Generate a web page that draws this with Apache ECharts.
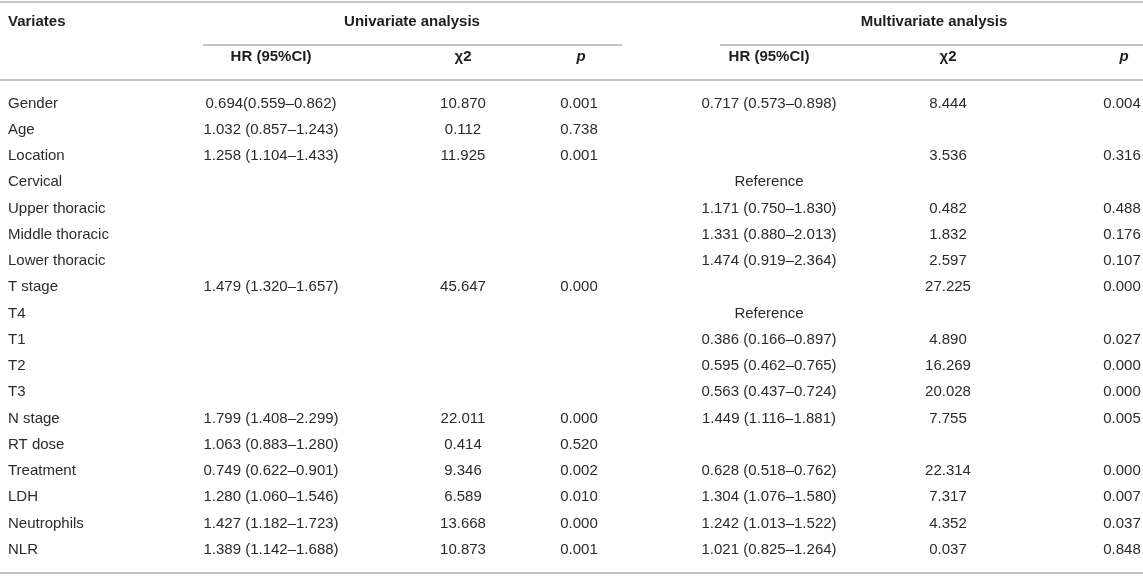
<!DOCTYPE html>
<html lang="en" style="height: 100%">
  <head>
    <meta charset="utf-8">
    <title>Cox regression table</title>
  </head>
  <body style="height: 100%; margin: 0; background: #fff">
    <div id="container" style="width: 1143px; height: 577px;"></div>
    <script type="text/javascript" src="https://cdn.jsdelivr.net/npm/echarts@6/dist/echarts.min.js"></script>
    <script type="text/javascript">
      // table content
      var variates = ['Gender', 'Age', 'Location', 'Cervical', 'Upper thoracic', 'Middle thoracic', 'Lower thoracic',
        'T stage', 'T4', 'T1', 'T2', 'T3', 'N stage', 'RT dose', 'Treatment', 'LDH', 'Neutrophils', 'NLR'];
      var uniHR = ['0.694(0.559–0.862)', '1.032 (0.857–1.243)', '1.258 (1.104–1.433)', '', '', '', '',
        '1.479 (1.320–1.657)', '', '', '', '', '1.799 (1.408–2.299)', '1.063 (0.883–1.280)',
        '0.749 (0.622–0.901)', '1.280 (1.060–1.546)', '1.427 (1.182–1.723)', '1.389 (1.142–1.688)'];
      var uniChi = ['10.870', '0.112', '11.925', '', '', '', '', '45.647', '', '', '', '',
        '22.011', '0.414', '9.346', '6.589', '13.668', '10.873'];
      var uniP = ['0.001', '0.738', '0.001', '', '', '', '', '0.000', '', '', '', '',
        '0.000', '0.520', '0.002', '0.010', '0.000', '0.001'];
      var multiHR = ['0.717 (0.573–0.898)', '', '', 'Reference', '1.171 (0.750–1.830)', '1.331 (0.880–2.013)',
        '1.474 (0.919–2.364)', '', 'Reference', '0.386 (0.166–0.897)', '0.595 (0.462–0.765)',
        '0.563 (0.437–0.724)', '1.449 (1.116–1.881)', '', '0.628 (0.518–0.762)', '1.304 (1.076–1.580)',
        '1.242 (1.013–1.522)', '1.021 (0.825–1.264)'];
      var multiChi = ['8.444', '', '3.536', '', '0.482', '1.832', '2.597', '27.225', '', '4.890', '16.269',
        '20.028', '7.755', '', '22.314', '7.317', '4.352', '0.037'];
      var multiP = ['0.004', '', '0.316', '', '0.488', '0.176', '0.107', '0.000', '', '0.027', '0.000',
        '0.000', '0.005', '', '0.000', '0.007', '0.037', '0.848'];
      var subHeaders = ['HR (95%CI)', 'χ2', 'p'];

      // layout: column anchors (x) and alignment
      var columns = [
        {values: variates, x: 8, align: 'left'},
        {values: uniHR, x: 271, align: 'center'},
        {values: uniChi, x: 463, align: 'center'},
        {values: uniP, x: 579, align: 'center'},
        {values: multiHR, x: 769, align: 'center'},
        {values: multiChi, x: 948, align: 'center'},
        {values: multiP, x: 1122, align: 'center'}
      ];
      var FONT = '"Liberation Sans", Arial, sans-serif';
      var TXT = '#2b2b2b';
      var RULE = '#c4c4c4';

      var cells = [];
      columns.forEach(function (col, c) {
        col.values.forEach(function (v, r) {
          if (v !== '') cells.push({value: [col.x, r], text: v, align: col.align});
        });
      });

      var headerText = function (x, y, text, extra) {
        return {
          type: 'text', x: x, y: y,
          style: Object.assign({
            text: text, fill: '#1e1e1e', font: 'bold 15px ' + FONT,
            align: 'center', verticalAlign: 'middle'
          }, extra || {})
        };
      };
      var rule = function (x1, x2, y) {
        return {type: 'line', shape: {x1: x1, y1: y, x2: x2, y2: y}, style: {stroke: RULE, lineWidth: 2}};
      };

      var graphics = [
        rule(0, 1143, 2),
        rule(203, 622, 45),
        rule(720, 1143, 45),
        rule(0, 1143, 80),
        rule(0, 1143, 573),
        headerText(8, 22, 'Variates', {align: 'left'}),
        headerText(412, 22, 'Univariate analysis'),
        headerText(934, 22, 'Multivariate analysis')
      ];
      [[271, 463, 581], [769, 948, 1124]].forEach(function (xs) {
        xs.forEach(function (x, i) {
          graphics.push(headerText(x, 57, subHeaders[i],
            i === 2 ? {font: 'italic bold 15px ' + FONT} : null));
        });
      });

      var dom = document.getElementById('container');
      var myChart = echarts.init(dom);
      var option = {
          animation: false,
          grid: {left: 0, right: 0, top: 90.4, height: 472.5},
          xAxis: {type: 'value', min: 0, max: 1143, show: false},
          yAxis: {type: 'category', data: variates, inverse: true, show: false},
          graphic: graphics,
          series: [
              {
                  type: 'custom',
                  data: cells,
                  renderItem: function (params, api) {
                      var p = api.coord([api.value(0), api.value(1)]);
                      var cell = cells[params.dataIndex];
                      return {
                          type: 'text', x: p[0], y: p[1],
                          style: {
                              text: cell.text, fill: TXT, font: '15px ' + FONT,
                              align: cell.align, verticalAlign: 'middle'
                          }
                      };
                  }
              }
          ]
      };
      myChart.setOption(option);
    </script>
  </body>
</html>
